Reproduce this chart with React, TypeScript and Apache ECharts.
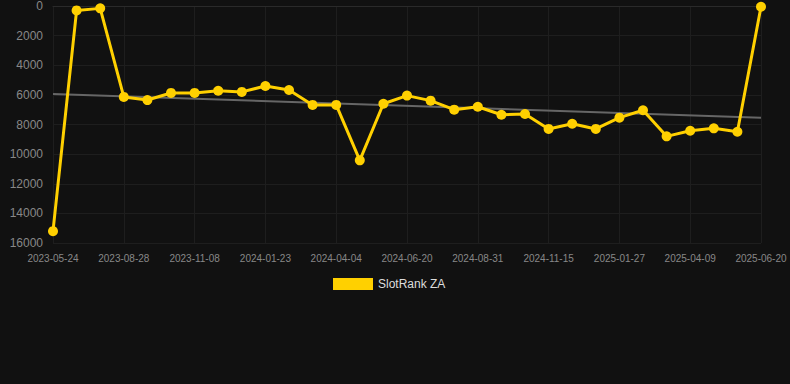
import React, { useEffect, useRef } from "react";
import * as echarts from "echarts";

const dates = [
  "2023-05-24", "2023-06-24", "2023-07-26", "2023-08-28", "2023-09-21", "2023-10-15",
  "2023-11-08", "2023-12-02", "2023-12-27", "2024-01-23", "2024-02-14", "2024-03-10",
  "2024-04-04", "2024-04-30", "2024-05-25", "2024-06-20", "2024-07-14", "2024-08-07",
  "2024-08-31", "2024-09-25", "2024-10-20", "2024-11-15", "2024-12-10", "2025-01-03",
  "2025-01-27", "2025-02-20", "2025-03-16", "2025-04-09", "2025-05-03", "2025-05-27",
  "2025-06-20",
];

const slotRankZA = [
  15200, 300, 160, 6140, 6350, 5870, 5870, 5720, 5800, 5400, 5670, 6680,
  6680, 10420, 6600, 6050, 6390, 7000, 6800, 7340, 7290, 8300, 7950, 8300,
  7540, 7040, 8800, 8420, 8260, 8490, 50,
];

const trendStart = 5940;
const trendEnd = 7540;

const yTicks = { min: 0, max: 16000, interval: 2000 };

export default function App() {
  const ref = useRef<HTMLDivElement>(null);
  useEffect(() => {
    document.body.style.margin = "0";
    const chart = echarts.init(ref.current!, null, { renderer: "svg" });
    const trend = dates.map((_, i) =>
      i === 0 ? trendStart : i === dates.length - 1 ? trendEnd : null
    );
    chart.setOption({
      animation: false,
      backgroundColor: "#111111",
      grid: { left: 53, right: 29, top: 6, bottom: 141 },
      legend: {
        data: ["SlotRank ZA"],
        top: 273,
        left: 328,
        itemWidth: 40,
        itemHeight: 12,
        itemGap: 10,
        icon: "rect",
        textStyle: { color: "#dddddd", fontSize: 12, fontFamily: "Arial, Liberation Sans, sans-serif" },
      },
      xAxis: {
        type: "category",
        data: dates,
        boundaryGap: false,
        axisLine: { show: true, lineStyle: { color: "#2a2a2a" } },
        axisTick: { show: false },
        axisLabel: {
          interval: 2,
          color: "#888888",
          fontSize: 10,
          margin: 10,
          fontFamily: "Arial, Liberation Sans, sans-serif",
        },
        splitLine: { show: true, interval: 2, lineStyle: { color: "#1e1e1e", width: 1 } },
      },
      yAxis: {
        type: "value",
        inverse: true,
        min: yTicks.min,
        max: yTicks.max,
        interval: yTicks.interval,
        axisLine: { show: false },
        axisTick: { show: false },
        axisLabel: {
          color: "#888888",
          fontSize: 12,
          margin: 10,
          formatter: (v: number) => String(v),
          fontFamily: "Arial, Liberation Sans, sans-serif",
        },
        splitLine: { show: true, lineStyle: { color: "#1e1e1e", width: 1 } },
      },
      series: [
        {
          name: "trend",
          type: "line",
          data: trend,
          connectNulls: true,
          symbol: "none",
          lineStyle: { color: "#666666", width: 2 },
          silent: true,
          z: 1,
        },
        {
          name: "SlotRank ZA",
          type: "line",
          data: slotRankZA,
          symbol: "circle",
          symbolSize: 10,
          itemStyle: { color: "#FFD000" },
          lineStyle: { color: "#FFD000", width: 3 },
          z: 2,
        },
      ],
    });
    return () => chart.dispose();
  }, []);
  return <div ref={ref} style={{ width: 790, height: 384 }} />;
}
